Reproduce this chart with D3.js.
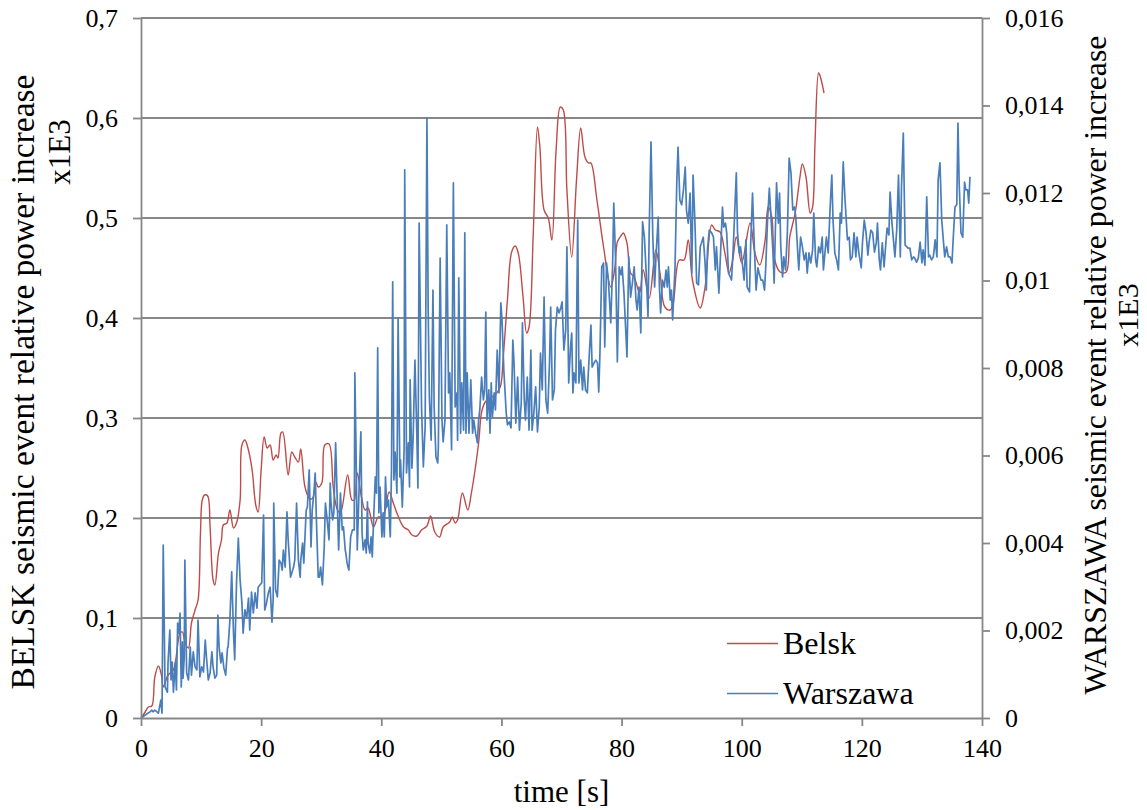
<!DOCTYPE html>
<html>
<head>
<meta charset="utf-8">
<script src="https://cdn.jsdelivr.net/npm/d3@7"></script>
<style>
  html, body { margin: 0; padding: 0; background: #ffffff; }
  svg { display: block; }
  svg text { font-family: "Liberation Serif", "Times New Roman", serif; fill: #000; }
</style>
</head>
<body>
<svg id="chart" width="1147" height="810"></svg>
<script>
// ---------------- DATA ----------------
const xTicks = [0, 20, 40, 60, 80, 100, 120, 140];
const xTickLabels = ["0", "20", "40", "60", "80", "100", "120", "140"];
const leftTicks = [0, 0.1, 0.2, 0.3, 0.4, 0.5, 0.6, 0.7];
const leftTickLabels = ["0", "0,1", "0,2", "0,3", "0,4", "0,5", "0,6", "0,7"];
const rightTicks = [0, 0.002, 0.004, 0.006, 0.008, 0.01, 0.012, 0.014, 0.016];
const rightTickLabels = ["0", "0,002", "0,004", "0,006", "0,008", "0,01", "0,012", "0,014", "0,016"];
const seriesNames = ["Belsk", "Warszawa"];

// Belsk: [time s, value] on left axis
const belsk = [[0,0],[0.7,0.006],[1.2,0.011],[1.8,0.012],[2.3,0.041],[2.9,0.052],[3.4,0.043],[3.7,0.031],[4.5,0.043],[5.4,0.048],[6.5,0.085],[6.9,0.086],[7.3,0.076],[7.9,0.070],[8.4,0.095],[9.0,0.108],[9.5,0.118],[9.9,0.185],[10.2,0.218],[10.6,0.223],[11.1,0.222],[11.5,0.191],[12.0,0.138],[12.3,0.133],[12.9,0.165],[13.4,0.178],[13.7,0.193],[14.3,0.195],[14.8,0.208],[15.4,0.190],[15.9,0.195],[16.5,0.218],[16.8,0.273],[17.3,0.278],[17.8,0.270],[18.5,0.248],[19.1,0.213],[19.5,0.206],[20.0,0.248],[20.5,0.281],[21.0,0.270],[21.5,0.273],[22.0,0.258],[22.5,0.263],[22.8,0.260],[23.3,0.285],[23.6,0.286],[24.5,0.243],[25.1,0.266],[25.6,0.261],[26.2,0.256],[26.6,0.269],[27.3,0.231],[28.1,0.219],[28.6,0.220],[29.1,0.236],[29.5,0.231],[30.1,0.235],[30.6,0.273],[31.3,0.274],[32.0,0.231],[32.7,0.208],[33.2,0.205],[34.4,0.243],[35.1,0.218],[35.5,0.218],[36.0,0.245],[36.7,0.221],[37.3,0.208],[37.8,0.210],[38.7,0.191],[39.5,0.201],[40.3,0.201],[41.3,0.226],[42.0,0.215],[42.6,0.205],[43.7,0.191],[44.5,0.188],[45.1,0.183],[45.9,0.182],[46.7,0.188],[47.6,0.192],[48.2,0.202],[48.9,0.186],[49.7,0.181],[50.3,0.191],[51.4,0.196],[51.8,0.201],[52.3,0.195],[52.7,0.198],[53.5,0.225],[54.4,0.208],[55.0,0.225],[56.2,0.275],[56.7,0.306],[57.3,0.316],[58.1,0.320],[58.9,0.323],[59.8,0.331],[60.3,0.361],[61.0,0.418],[61.7,0.466],[62.3,0.472],[62.8,0.465],[63.6,0.421],[64.2,0.385],[64.6,0.391],[65.3,0.485],[66.0,0.591],[66.4,0.571],[67.1,0.508],[67.8,0.500],[68.4,0.478],[69.1,0.568],[69.8,0.611],[70.3,0.608],[70.9,0.528],[71.7,0.461],[72.5,0.538],[73.2,0.590],[73.9,0.561],[74.5,0.555],[74.9,0.555],[75.9,0.518],[77.0,0.471],[78.2,0.431],[78.9,0.451],[79.3,0.476],[80.0,0.483],[80.3,0.485],[80.9,0.475],[81.5,0.445],[82.1,0.441],[83.0,0.425],[83.6,0.448],[84.6,0.420],[85.7,0.468],[86.4,0.445],[87.2,0.411],[88.1,0.408],[88.6,0.415],[89.6,0.458],[90.4,0.458],[91.1,0.478],[91.8,0.438],[93.1,0.410],[93.9,0.431],[95.0,0.493],[95.6,0.488],[96.4,0.486],[97.2,0.465],[97.9,0.445],[98.5,0.458],[99.1,0.481],[100.0,0.455],[101.4,0.495],[102.2,0.465],[103.0,0.453],[103.9,0.478],[104.4,0.511],[105.0,0.501],[105.5,0.458],[106.4,0.446],[107.4,0.446],[108.0,0.481],[108.9,0.505],[109.7,0.541],[110.1,0.554],[110.7,0.541],[111.4,0.505],[111.8,0.511],[112.2,0.575],[112.8,0.645],[113.1,0.641],[113.7,0.625]];

// Warszawa: [time s, value] on right axis
const warszawa = [[0.1,0.00000],[0.7,0.00007],[1.5,0.00014],[1.8,0.00018],[2.0,0.00014],[2.3,0.00018],[2.9,0.00011],[3.3,0.00041],[3.5,0.00011],[3.7,0.00395],[4.0,0.00071],[4.4,0.00059],[4.5,0.00126],[4.8,0.00201],[5.0,0.00087],[5.2,0.00128],[5.4,0.00059],[5.7,0.00126],[5.9,0.00064],[6.1,0.00217],[6.3,0.00194],[6.5,0.00240],[6.7,0.00071],[6.9,0.00174],[7.0,0.00091],[7.2,0.00139],[7.3,0.00361],[7.6,0.00103],[7.9,0.00087],[8.2,0.00162],[8.4,0.00098],[8.7,0.00151],[9.0,0.00117],[9.3,0.00110],[9.5,0.00224],[9.8,0.00094],[10.1,0.00117],[10.4,0.00105],[10.7,0.00178],[10.9,0.00139],[11.2,0.00087],[11.5,0.00103],[11.8,0.00151],[12.0,0.00117],[12.3,0.00091],[12.6,0.00098],[12.8,0.00235],[13.0,0.00162],[13.3,0.00126],[13.5,0.00149],[13.8,0.00114],[14.1,0.00098],[14.4,0.00160],[14.5,0.00162],[14.8,0.00224],[15.1,0.00334],[15.4,0.00194],[15.6,0.00133],[15.9,0.00309],[16.2,0.00411],[16.5,0.00315],[16.8,0.00263],[17.0,0.00194],[17.3,0.00247],[17.6,0.00229],[17.9,0.00274],[18.1,0.00201],[18.4,0.00288],[18.7,0.00240],[19.0,0.00286],[19.3,0.00251],[19.5,0.00299],[19.8,0.00304],[20.1,0.00309],[20.4,0.00464],[20.6,0.00247],[20.9,0.00263],[21.2,0.00286],[21.5,0.00299],[21.8,0.00219],[22.0,0.00270],[22.1,0.00491],[22.4,0.00293],[22.7,0.00277],[23.0,0.00361],[23.3,0.00354],[23.5,0.00338],[23.7,0.00384],[24.0,0.00345],[24.3,0.00471],[24.5,0.00407],[24.9,0.00322],[25.4,0.00345],[25.6,0.00361],[25.9,0.00491],[26.2,0.00361],[26.5,0.00322],[26.6,0.00361],[26.9,0.00400],[27.1,0.00354],[27.5,0.00475],[27.7,0.00482],[28.0,0.00567],[28.3,0.00391],[28.5,0.00475],[28.8,0.00517],[29.0,0.00560],[29.2,0.00453],[29.5,0.00322],[29.7,0.00322],[29.9,0.00345],[30.2,0.00304],[30.5,0.00391],[30.7,0.00491],[31.0,0.00453],[31.3,0.00407],[31.5,0.00537],[31.6,0.00498],[31.9,0.00453],[32.1,0.00469],[32.4,0.00629],[32.7,0.00482],[32.9,0.00384],[33.2,0.00514],[33.5,0.00430],[33.7,0.00437],[34.0,0.00384],[34.1,0.00377],[34.3,0.00354],[34.6,0.00338],[34.9,0.00414],[35.2,0.00430],[35.5,0.00430],[35.6,0.00789],[35.8,0.00613],[36.0,0.00384],[36.3,0.00521],[36.6,0.00654],[36.8,0.00423],[37.0,0.00384],[37.3,0.00407],[37.5,0.00377],[37.7,0.00494],[37.8,0.00400],[38.1,0.00377],[38.3,0.00414],[38.5,0.00368],[38.7,0.00446],[39.0,0.00551],[39.2,0.00514],[39.4,0.00846],[39.6,0.00469],[39.8,0.00528],[40.1,0.00414],[40.3,0.00469],[40.5,0.00414],[40.7,0.00551],[40.9,0.00482],[41.2,0.00498],[41.5,0.00414],[41.7,0.00567],[41.9,0.00997],[42.1,0.00544],[42.3,0.00608],[42.6,0.00514],[42.8,0.00914],[43.1,0.00551],[43.2,0.00590],[43.5,0.00482],[43.8,0.00613],[43.9,0.01253],[44.2,0.00560],[44.5,0.00629],[44.7,0.00528],[44.8,0.00773],[45.1,0.00571],[45.3,0.00640],[45.6,0.00818],[45.9,0.00658],[46.1,0.00526],[46.3,0.01131],[46.7,0.00711],[47.0,0.00574],[47.3,0.00665],[47.6,0.01371],[47.8,0.00939],[48.0,0.00734],[48.3,0.00635],[48.6,0.00978],[48.8,0.00711],[49.1,0.00597],[49.4,0.00583],[49.5,0.00619],[49.8,0.01051],[50.1,0.00681],[50.3,0.00631],[50.6,0.00681],[50.9,0.01127],[51.2,0.00743],[51.4,0.00789],[51.7,0.00613],[52.0,0.01223],[52.3,0.00711],[52.6,0.00743],[52.7,0.00635],[52.9,0.01006],[53.2,0.00651],[53.4,0.00766],[53.7,0.00658],[53.9,0.01109],[54.1,0.00651],[54.3,0.00789],[54.6,0.00651],[54.9,0.00773],[55.2,0.00651],[55.4,0.00681],[55.7,0.00651],[56.0,0.00629],[56.2,0.00681],[56.4,0.00704],[56.7,0.00779],[57.0,0.00727],[57.2,0.00750],[57.4,0.00928],[57.6,0.00681],[57.9,0.00750],[58.1,0.00651],[58.3,0.00766],[58.5,0.00688],[58.8,0.00743],[59.0,0.00704],[59.3,0.00841],[59.6,0.00743],[59.9,0.00949],[60.1,0.00910],[60.4,0.00795],[60.8,0.00697],[61.0,0.00670],[61.3,0.00677],[61.6,0.00663],[61.9,0.00864],[62.1,0.00811],[62.4,0.00674],[62.7,0.00779],[63.0,0.00658],[63.3,0.00720],[63.5,0.00903],[63.8,0.00727],[64.0,0.00681],[64.3,0.00779],[64.6,0.00658],[64.9,0.00841],[65.1,0.00658],[65.4,0.00697],[65.7,0.00757],[66.0,0.00654],[66.3,0.00711],[66.5,0.00834],[66.8,0.00750],[67.1,0.00962],[67.4,0.00727],[67.7,0.00697],[68.0,0.00811],[68.2,0.00939],[68.5,0.00727],[68.8,0.00750],[69.0,0.00887],[69.3,0.00939],[69.6,0.00926],[69.9,0.00939],[70.1,0.00951],[70.4,0.00841],[70.7,0.00887],[70.9,0.01077],[71.2,0.00766],[71.5,0.00848],[71.7,0.00880],[71.9,0.00743],[72.1,0.00789],[72.4,0.00766],[72.7,0.01138],[72.9,0.00766],[73.2,0.00818],[73.5,0.00750],[73.7,0.00802],[74.0,0.00750],[74.3,0.00743],[74.6,0.00825],[74.9,0.00898],[75.1,0.00802],[75.4,0.00811],[75.7,0.00818],[76.0,0.00811],[76.2,0.00745],[76.4,0.00834],[76.7,0.01031],[77.0,0.01040],[77.2,0.00848],[77.5,0.01040],[77.8,0.01001],[78.2,0.00903],[78.5,0.01031],[78.7,0.01177],[79.0,0.01047],[79.3,0.00814],[79.6,0.01031],[79.9,0.01013],[80.1,0.01031],[80.4,0.00971],[80.9,0.00825],[81.2,0.01054],[81.5,0.00962],[81.8,0.00994],[82.1,0.01031],[82.4,0.00955],[82.6,0.00933],[82.9,0.00985],[83.2,0.00880],[83.5,0.01134],[83.8,0.01099],[84.1,0.01017],[84.4,0.00917],[84.6,0.01115],[84.9,0.01317],[85.2,0.01099],[85.5,0.00985],[85.7,0.01047],[86.1,0.01145],[86.3,0.00985],[86.5,0.00926],[86.8,0.01001],[87.1,0.00985],[87.4,0.01024],[87.6,0.00985],[87.8,0.01031],[88.1,0.00955],[88.3,0.00978],[88.5,0.00910],[88.9,0.01031],[89.2,0.01230],[89.4,0.01305],[89.7,0.01184],[90.0,0.01173],[90.3,0.01207],[90.6,0.01259],[90.8,0.01161],[91.1,0.01131],[91.4,0.01200],[91.7,0.01017],[91.9,0.01241],[92.2,0.01138],[92.5,0.00994],[92.8,0.00990],[93.1,0.01077],[93.3,0.01086],[93.6,0.01099],[93.9,0.01040],[94.1,0.00978],[94.3,0.01070],[94.6,0.01115],[95.0,0.01109],[95.3,0.01099],[95.6,0.01024],[95.8,0.01077],[96.2,0.00971],[96.5,0.01070],[96.8,0.01168],[97.0,0.01122],[97.3,0.01131],[97.5,0.01109],[97.8,0.01017],[98.1,0.01008],[98.3,0.01001],[98.6,0.01077],[99.1,0.01246],[99.3,0.01109],[99.6,0.01063],[99.8,0.01077],[100.1,0.01040],[100.4,0.01001],[100.7,0.01093],[100.9,0.00985],[101.3,0.00974],[101.5,0.01086],[101.8,0.01200],[102.1,0.01077],[102.4,0.00978],[102.7,0.01029],[102.9,0.01017],[103.2,0.01001],[103.5,0.01001],[103.8,0.00978],[104.0,0.01031],[104.3,0.01138],[104.6,0.01211],[104.9,0.01138],[105.2,0.01065],[105.4,0.00994],[105.6,0.01115],[105.8,0.01223],[106.1,0.01131],[106.3,0.01200],[106.5,0.01077],[106.8,0.01008],[107.0,0.01054],[107.3,0.01024],[107.6,0.01109],[107.9,0.01280],[108.2,0.01246],[108.5,0.01161],[108.8,0.01168],[109.0,0.01145],[109.3,0.01070],[109.5,0.01024],[109.8,0.01099],[110.1,0.01077],[110.4,0.01047],[110.7,0.01063],[110.9,0.01017],[111.2,0.01063],[111.5,0.01040],[111.8,0.01070],[112.0,0.01154],[112.3,0.01047],[112.5,0.01031],[112.8,0.01077],[113.1,0.01063],[113.4,0.01099],[113.6,0.01024],[113.9,0.01070],[114.1,0.01099],[114.4,0.01063],[114.7,0.01161],[115.0,0.01241],[115.2,0.01138],[115.5,0.01063],[115.8,0.01047],[116.1,0.01024],[116.4,0.01154],[116.6,0.01131],[116.9,0.01271],[117.2,0.01184],[117.6,0.01093],[117.9,0.01099],[118.1,0.01047],[118.4,0.01054],[118.7,0.01109],[119.0,0.01054],[119.2,0.01099],[119.5,0.01063],[119.9,0.01029],[120.1,0.01086],[120.4,0.01138],[120.7,0.01109],[121.0,0.01058],[121.2,0.01086],[121.5,0.01115],[121.8,0.01109],[122.1,0.01065],[122.4,0.01086],[122.6,0.01131],[122.9,0.01047],[123.1,0.01024],[123.4,0.01086],[123.7,0.01031],[124.0,0.01086],[124.2,0.01120],[124.5,0.01104],[124.7,0.01202],[125.0,0.01134],[125.3,0.01086],[125.5,0.01054],[125.8,0.01115],[126.1,0.01241],[126.4,0.01054],[126.6,0.01214],[126.9,0.01337],[127.2,0.01081],[127.5,0.01077],[127.7,0.01074],[128.0,0.01074],[128.3,0.01047],[128.6,0.01054],[128.8,0.01051],[129.1,0.01042],[129.4,0.01051],[129.7,0.01088],[130.0,0.01040],[130.2,0.01070],[130.5,0.01035],[130.8,0.01191],[131.1,0.01054],[131.3,0.01058],[131.6,0.01047],[131.9,0.01054],[132.2,0.01093],[132.5,0.01054],[132.7,0.01230],[133.0,0.01269],[133.3,0.01138],[133.6,0.01086],[133.8,0.01054],[134.1,0.01077],[134.4,0.01054],[134.7,0.01054],[135.0,0.01040],[135.2,0.01093],[135.5,0.01168],[135.8,0.01173],[136.0,0.01360],[136.2,0.01223],[136.5,0.01109],[136.8,0.01099],[137.1,0.01225],[137.3,0.01207],[137.6,0.01207],[137.8,0.01177],[138.0,0.01237]];

// ---------------- CHART ----------------
const svg = d3.select("#chart");
const FONT = '"Liberation Serif", "Times New Roman", serif';
const plot = { left: 141, right: 982, top: 18, bottom: 718 };
const gridColor = "#878787";
const belskColor = "#BE4B48";
const warszawaColor = "#4A7EBB";

const x = d3.scaleLinear().domain([0, 140]).range([plot.left, plot.right]);
const yL = d3.scaleLinear().domain([0, 0.7]).range([plot.bottom, plot.top]);
const yR = d3.scaleLinear().domain([0, 0.016]).range([plot.bottom, plot.top]);

svg.append("rect").attr("width", 1147).attr("height", 810).attr("fill", "#fff");

// horizontal gridlines
svg.append("g").selectAll("line")
  .data(leftTicks.filter(d => d > 0))
  .join("line")
  .attr("x1", plot.left).attr("x2", plot.right)
  .attr("y1", d => yL(d)).attr("y2", d => yL(d))
  .attr("stroke", gridColor).attr("stroke-width", 1.8);

// series
const lineBelsk = d3.line().x(d => x(d[0])).y(d => yL(d[1])).curve(d3.curveCatmullRom.alpha(0.5));
const lineWarszawa = d3.line().x(d => x(d[0])).y(d => yR(d[1]));

svg.append("path").datum(belsk)
  .attr("d", lineBelsk).attr("fill", "none")
  .attr("stroke", belskColor).attr("stroke-width", 1.4).attr("stroke-linejoin", "round");
svg.append("path").datum(warszawa)
  .attr("d", lineWarszawa).attr("fill", "none")
  .attr("stroke", warszawaColor).attr("stroke-width", 1.7).attr("stroke-linejoin", "round");

// axes
function styleAxis(g) {
  g.selectAll("path.domain").attr("stroke", gridColor).attr("stroke-width", 1.8);
  g.selectAll(".tick line").attr("stroke", gridColor).attr("stroke-width", 1.8);
  g.selectAll(".tick text").style("font-family", FONT)
    .style("font-size", "26px").attr("fill", "#000");
}

const gx = svg.append("g").attr("transform", `translate(0,${plot.bottom})`)
  .call(d3.axisBottom(x).tickValues(xTicks).tickFormat((d, i) => xTickLabels[i])
    .tickSize(8).tickSizeOuter(0).tickPadding(13));
styleAxis(gx);

const gl = svg.append("g").attr("transform", `translate(${plot.left},0)`)
  .call(d3.axisLeft(yL).tickValues(leftTicks).tickFormat((d, i) => leftTickLabels[i])
    .tickSize(8).tickSizeOuter(0).tickPadding(15));
styleAxis(gl);

const gr = svg.append("g").attr("transform", `translate(${plot.right},0)`)
  .call(d3.axisRight(yR).tickValues(rightTicks).tickFormat((d, i) => rightTickLabels[i])
    .tickSize(8).tickSizeOuter(0).tickPadding(15));
styleAxis(gr);

// axis titles
function title(transform, size, txt) {
  svg.append("text").attr("transform", transform)
    .attr("text-anchor", "middle")
    .style("font-family", FONT).style("font-size", size).text(txt);
}
title(`translate(${(plot.left + plot.right) / 2},802)`, "31px", "time [s]");
title("translate(34,382) rotate(-90)", "33.5px", "BELSK seismic event relative power increase");
title("translate(70,152) rotate(-90)", "31px", "x1E3");
title("translate(1106,365) rotate(-90)", "31.8px", "WARSZAWA seismic event relative power increase");
title("translate(1138,315) rotate(-90)", "30px", "x1E3");

// legend
const legend = svg.append("g");
const legendColors = [belskColor, warszawaColor];
const legendY = [643.5, 693.5];
seriesNames.forEach((name, i) => {
  legend.append("line").attr("x1", 727).attr("x2", 778)
    .attr("y1", legendY[i]).attr("y2", legendY[i])
    .attr("stroke", legendColors[i]).attr("stroke-width", 1.5);
  legend.append("text").attr("x", 783).attr("y", legendY[i] + 10.5)
    .style("font-family", FONT).style("font-size", "32px").text(name);
});
</script>
</body>
</html>
